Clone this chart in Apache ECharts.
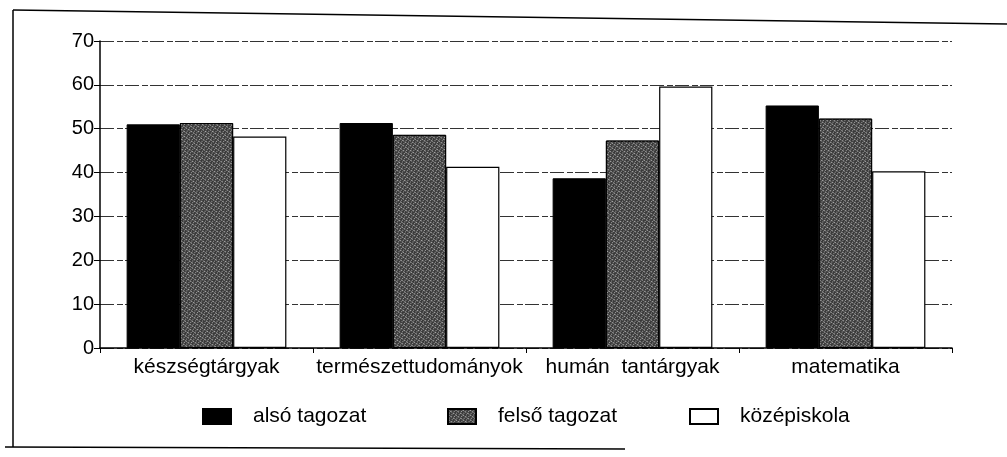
<!DOCTYPE html>
<html>
<head>
<meta charset="utf-8">
<script src="https://cdn.jsdelivr.net/npm/echarts@6/dist/echarts.min.js"></script>
<style>
html,body{margin:0;padding:0;background:#fff;}
#c{width:1007px;height:457px;}
</style>
</head>
<body>
<div id="c"></div>
<script>
const categories = ['készségtárgyak', 'természettudományok', 'humán  tantárgyak', 'matematika'];
const alsoTagozat = [51, 51.3, 38.7, 55.3];
const felsoTagozat = [51.3, 48.6, 47.3, 52.3];
const kozepiskola = [48.2, 41.3, 59.6, 40.3];
const yTicks = [0, 10, 20, 30, 40, 50, 60, 70];
const seriesNames = ['alsó tagozat', 'felső tagozat', 'középiskola'];

const font = 'Liberation Sans, Arial, sans-serif';
const chart = echarts.init(document.getElementById('c'), null, {renderer: 'canvas'});

const grayDecal = {
  symbol: 'rect',
  symbolSize: 1,
  color: 'rgba(255,255,255,0.55)',
  dashArrayX: [[1, 2], [2, 1]],
  dashArrayY: [1, 1],
  rotation: 0.6
};

chart.setOption({
  animation: false,
  backgroundColor: '#fff',
  grid: {left: 100, right: 55, top: 41, bottom: 109, containLabel: false},
  legend: seriesNames.map((n, i) => ({
    data: [n],
    left: [197, 442, 684][i],
    top: 401,
    itemWidth: 28,
    itemHeight: 15,
    icon: 'rect',
    textStyle: {fontFamily: font, fontSize: 21, color: '#000', padding: [0, 0, 0, 17]}
  })),
  xAxis: {
    type: 'category',
    data: categories,
    axisLine: {lineStyle: {color: '#000', width: 1.5}},
    axisTick: {show: true, length: 5, lineStyle: {color: '#000'}},
    axisLabel: {fontFamily: font, fontSize: 21, color: '#000', margin: 9, interval: 0}
  },
  yAxis: {
    type: 'value',
    min: 0,
    max: 70,
    interval: 10,
    axisLine: {show: true, lineStyle: {color: '#000', width: 1.5}},
    axisTick: {show: true, length: 6, lineStyle: {color: '#000'}},
    axisLabel: {fontFamily: font, fontSize: 20, color: '#000', margin: 6,
      formatter: v => yTicks.includes(v) ? String(v) : ''},
    splitLine: {show: true, lineStyle: {color: '#333', width: 1, type: [14, 3, 6, 2]}}
  },
  series: [
    {
      name: seriesNames[0], type: 'bar', data: alsoTagozat,
      barGap: '0%', barCategoryGap: '25%',
      itemStyle: {color: '#000', borderColor: '#000', borderWidth: 1}
    },
    {
      name: seriesNames[1], type: 'bar', data: felsoTagozat,
      itemStyle: {color: '#3a3a3a', borderColor: '#000', borderWidth: 1, decal: grayDecal}
    },
    {
      name: seriesNames[2], type: 'bar', data: kozepiskola,
      itemStyle: {color: '#fff', borderColor: '#000', borderWidth: 1.2}
    }
  ],
  graphic: [
    {type: 'line', shape: {x1: 13, y1: 10, x2: 13, y2: 447}, style: {stroke: '#000', lineWidth: 1.5}},
    {type: 'line', shape: {x1: 13, y1: 10, x2: 1007, y2: 24}, style: {stroke: '#000', lineWidth: 1.5}},
    {type: 'line', shape: {x1: 5, y1: 447, x2: 625, y2: 449}, style: {stroke: '#000', lineWidth: 1.5}}
  ]
});
</script>
</body>
</html>
